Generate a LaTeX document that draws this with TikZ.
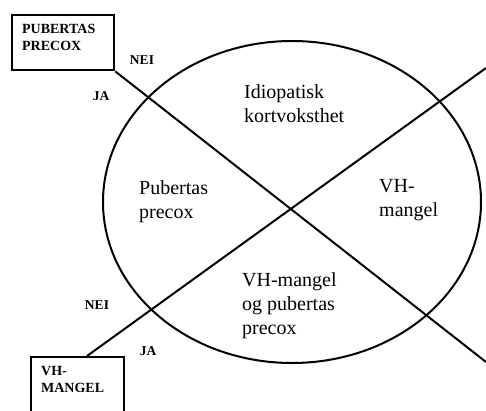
\documentclass[tikz,border=0pt]{standalone}
\usepackage{fontspec}
\setmainfont{Liberation Serif}
\usepackage{tikz}
\usetikzlibrary{shapes.geometric}

\newcommand{\boxtext}{\fontsize{14}{17}\selectfont\bfseries}
\newcommand{\answertext}{\fontsize{13.5}{16}\selectfont\bfseries}
\newcommand{\regiontext}{\fontsize{20}{24}\selectfont}

\begin{document}
\begin{tikzpicture}[
    x=1pt, y=-1pt,
    diagbox/.style={draw, line width=2.3pt, anchor=north west, align=left, inner xsep=10pt, inner ysep=9pt, font=\boxtext},
    boxdepth/.style={execute at end node={\endgraf\vspace*{#1}}},
    answer/.style={inner sep=0pt, font=\answertext},
    region/.style={anchor=north west, align=left, inner sep=0pt, font=\regiontext},
    splitline/.style={line width=2pt}
]
\useasboundingbox (0,0) rectangle (486,410);

% the oval and the two dividing lines
\node[ellipse, draw, line width=2pt, minimum width=378pt, minimum height=322pt, inner sep=0pt] (oval) at (292,202) {};

\node[diagbox, text width=82pt, boxdepth=10.7pt] (ppbox) at (11,14) {PUBERTAS\\PRECOX};
\node[diagbox, text width=73pt, boxdepth=60pt] (vhbox) at (30,356) {VH-\\MANGEL};

\coordinate (vhstart) at (87,356);
\coordinate (ppend) at (486,362);
\coordinate (vhend) at (486,68);

\draw[splitline] (ppbox.south east) -- (ppend);
\draw[splitline] (vhstart) -- (vhend);

% answers
\node[answer] (ppnei) at (142,60) {NEI};
\node[answer] (ppja) at (101,96) {JA};
\node[answer] (vhnei) at (97,305) {NEI};
\node[answer] (vhja) at (148,351) {JA};

% the four groups
\node[region] (idio) at (244,84) {Idiopatisk\\kortvoksthet};
\node[region] (pp) at (139,180) {Pubertas\\precox};
\node[region] (vh) at (379,179) {VH-\\mangel};
\node[region] (both) at (242,272) {VH-mangel\\og pubertas\\precox};

\end{tikzpicture}
\end{document}
